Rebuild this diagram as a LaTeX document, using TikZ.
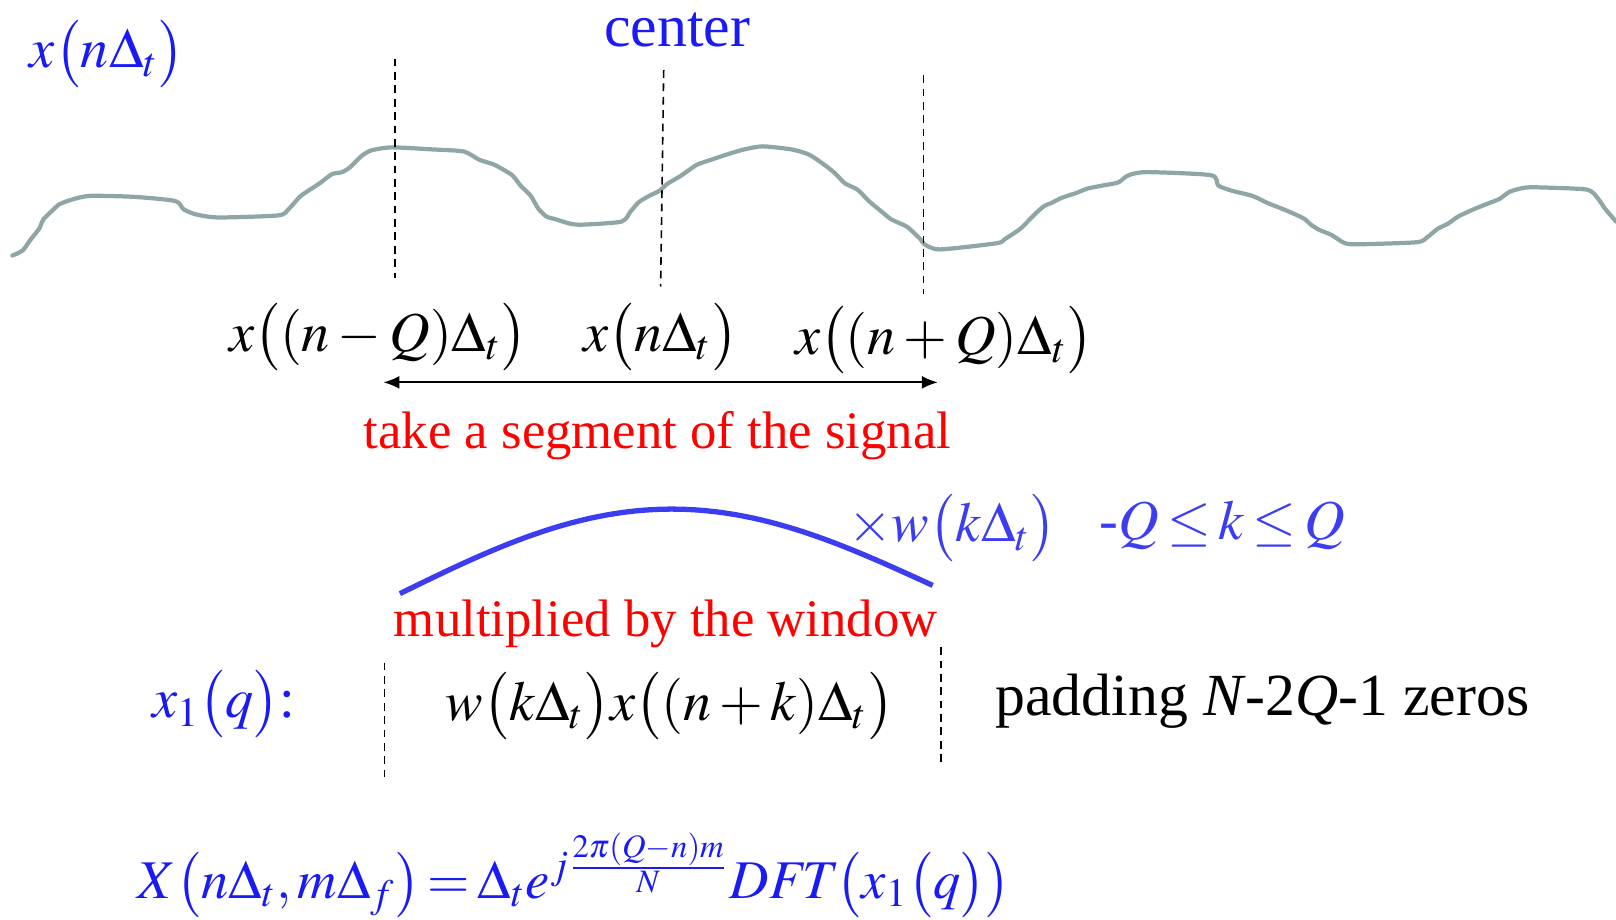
\documentclass[tikz,border=0pt]{standalone}
\usepackage{mathptmx}
\usepackage[no-math]{fontspec}
\setmainfont{Liberation Serif}
\usetikzlibrary{arrows.meta}
\definecolor{Ink}{HTML}{000000}
\definecolor{Signal}{HTML}{8FA6A6}
\definecolor{Pen}{HTML}{1A1AF5}
\definecolor{Win}{HTML}{3C3CF0}
\definecolor{Note}{HTML}{FF0000}
\newcommand\nearop[1]{\mskip2.5mu{#1}\mskip2.5mu}
\tikzset{
  formula/.style={inner sep=0pt, text=Ink, font=\fontsize{16}{19}\selectfont},
  blueformula/.style={formula, text=Pen},
  tight/.style={execute at begin node={\thickmuskip=2.5mu\relax\medmuskip=3mu\relax}},
  remark/.style={inner sep=0pt, text=Note, font=\fontsize{15}{18}\selectfont},
  marker/.style={draw=Ink, line width=0.45pt, dash pattern=on 2.2pt off 1.6pt},
  signal/.style={draw=Signal, line width=1.2pt, line join=round, line cap=round},
  windowline/.style={draw=Win, line width=1.5pt},
  span/.style={{Latex[length=1.6mm,width=1.3mm]}-{Latex[length=1.6mm,width=1.3mm]}, line width=0.6pt, draw=Ink}
}

\begin{document}
\begin{tikzpicture}[x=0.010306cm,y=-0.010306cm]
  \useasboundingbox (0,0) rectangle (1568,892);
  % the signal
  \draw[signal] plot[smooth, tension=0.4] coordinates {
    (12,248) (22,243) (30,232) (38,222) (42,213) (50,205) (58,198) (72,193)
    (88,190) (130,191) (170,195) (178,203) (190,208) (212,211) (270,209)
    (280,203) (292,190) (310,178) (322,169) (332,167) (340,162) (350,152)
    (360,146) (380,143) (420,145) (450,147) (465,155) (480,160) (497,170)
    (505,180) (515,190) (522,202) (530,210) (540,213) (553,217) (565,218)
    (603,215) (612,205) (620,196) (630,190) (640,185) (648,178) (660,171)
    (676,160) (690,155) (705,150) (722,145) (740,142) (768,145) (785,150)
    (800,160) (810,168) (820,178) (832,184) (843,195) (855,205) (865,213)
    (880,220) (893,232) (897,237) (912,242) (967,236) (975,232) (990,222)
    (1000,212) (1005,207) (1013,200) (1020,197) (1030,192) (1045,187)
    (1055,183) (1070,180) (1085,177) (1095,170) (1113,167) (1175,170)
    (1182,180) (1195,185) (1215,190) (1230,197) (1250,205) (1265,212)
    (1272,218) (1280,223) (1292,228) (1305,236) (1320,237) (1375,235)
    (1385,230) (1395,222) (1405,217) (1415,210) (1430,203) (1445,197)
    (1455,193) (1465,186) (1480,182) (1500,182) (1540,184) (1550,192)
    (1557,202) (1568,215)};

  \node[blueformula] (signal) at (104,52) {$x\bigl(n\Delta_t\bigr)$};
  \node[inner sep=0pt, text=Pen, font=\fontsize{17}{20}\selectfont] (center) at (657,29) {center};

  % markers of the segment
  \coordinate (lefttop) at (383,57);   \coordinate (leftbot) at (383,270);
  \coordinate (midtop) at (644,68);    \coordinate (midbot) at (641,278);
  \coordinate (righttop) at (896,73);  \coordinate (rightbot) at (896,285);
  \draw[marker] (lefttop) -- (leftbot);
  \draw[marker] (midtop) -- (midbot);
  \draw[marker] (righttop) -- (rightbot);

  \node[formula] (start) at (367,327) {$x\bigl((n\nearop{-}Q)\Delta_t\bigr)$};
  \node[formula] (mid) at (641,327) {$x\bigl(n\Delta_t\bigr)$};
  \node[formula] (end) at (916,330) {$x\bigl((n\nearop{+}Q)\Delta_t\bigr)$};

  \coordinate (segleft) at (372,371);
  \coordinate (segright) at (910,371);
  \draw[span] (segleft) -- (segright);
  \node[remark] (take) at (638,423) {take a segment of the signal};

  % window
  \draw[windowline] plot[domain=0:180, samples=60]
    ({388+\x/180*517}, {576-\x/180*8-78*sin(\x)});
  \node[blueformula, text=Win] (win) at (924,512) {$\times w\bigl(k\Delta_t\bigr)$};
  \node[blueformula, tight, text=Win] (range) at (1186,510) {-$Q\le k\le Q$};
  \node[remark] (mult) at (646,605) {multiplied by the window};

  % windowed segment
  \coordinate (boxlefttop) at (373,643);  \coordinate (boxleftbot) at (373,755);
  \coordinate (boxrighttop) at (913,628); \coordinate (boxrightbot) at (913,740);
  \draw[marker] (boxlefttop) -- (boxleftbot);
  \draw[marker] (boxrighttop) -- (boxrightbot);
  \node[blueformula] (xone) at (217,683) {$x_1\bigl(q\bigr)$:};
  \node[formula] (prod) at (650,685) {$w\bigl(k\Delta_t\bigr)x\bigl((n\nearop{+}k)\Delta_t\bigr)$};
  \node[formula, font=\fontsize{17}{20}\selectfont] (pad) at (1225,680) {padding \textit{N}-2\textit{Q}-1 zeros};

  % transform
  \node[blueformula, tight, font=\fontsize{15.5}{19}\selectfont, anchor=base west] (stft) at (133,872)
    {$X\bigl(n\Delta_t,m\Delta_f\bigr)=\Delta_t e^{j\frac{2\pi(Q-n)m}{N}}\mathit{DFT}\bigl(x_1\bigl(q\bigr)\bigr)$};
\end{tikzpicture}
\end{document}
